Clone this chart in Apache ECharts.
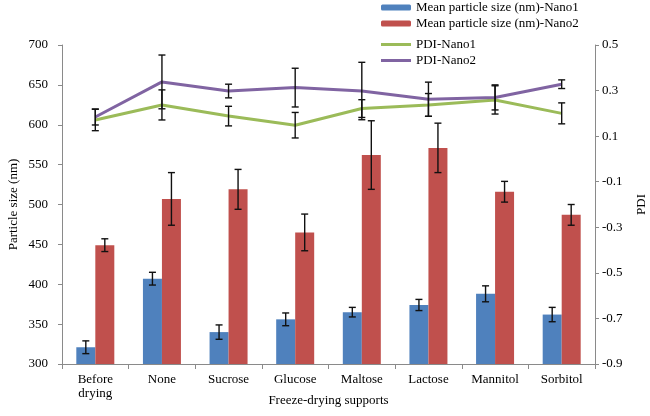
<!DOCTYPE html>
<html>
<head>
<meta charset="utf-8">
<script src="https://cdn.jsdelivr.net/npm/echarts@6/dist/echarts.min.js"></script>
<style>
  html, body { margin: 0; padding: 0; background: #fff; }
  #main { width: 650px; height: 416px; }
</style>
</head>
<body>
<div id="main"></div>
<script>
var categories = ['Before\ndrying', 'None', 'Sucrose', 'Glucose', 'Maltose', 'Lactose', 'Mannitol', 'Sorbitol'];

// particle size (nm), left axis
var sizeNano1 = [321, 407, 340, 356, 365, 374, 388, 362];
var sizeNano1Err = [8, 8, 9, 8, 6, 7, 10, 9];
var sizeNano2 = [449, 507, 519, 465, 562, 571, 516, 487];
var sizeNano2Err = [8, 33, 25, 23, 43, 31, 13, 13];

// PDI, right axis
var pdiNano1 = [0.171, 0.237, 0.188, 0.148, 0.221, 0.237, 0.259, 0.200];
var pdiNano1Err = [0.047, 0.066, 0.043, 0.056, 0.039, 0.050, 0.062, 0.046];
var pdiNano2 = [0.184, 0.338, 0.298, 0.313, 0.298, 0.262, 0.270, 0.328];
var pdiNano2Err = [0.035, 0.118, 0.030, 0.085, 0.126, 0.075, 0.055, 0.019];

var FONT = 'Liberation Serif';
var BAR_W = 19;

function errorBars(vals, errs, yAxisIndex, offset) {
    return {
        type: 'custom',
        yAxisIndex: yAxisIndex,
        silent: true,
        z: 10,
        data: vals.map(function (v, i) { return [i, v - errs[i], v + errs[i]]; }),
        encode: { x: 0, y: [1, 2] },
        renderItem: function (params, api) {
            var lo = api.coord([api.value(0), api.value(1)]);
            var hi = api.coord([api.value(0), api.value(2)]);
            var x = lo[0] + offset, hw = 3.5;
            var st = { stroke: '#111', lineWidth: 1.4 };
            return {
                type: 'group',
                children: [
                    { type: 'line', shape: { x1: x, y1: hi[1], x2: x, y2: lo[1] }, style: st },
                    { type: 'line', shape: { x1: x - hw, y1: hi[1], x2: x + hw, y2: hi[1] }, style: st },
                    { type: 'line', shape: { x1: x - hw, y1: lo[1], x2: x + hw, y2: lo[1] }, style: st }
                ]
            };
        }
    };
}

var axisLine = { show: true, onZero: false, lineStyle: { color: '#8a8a8a', width: 1 } };
var axisTick = { show: true, length: 4, lineStyle: { color: '#8a8a8a' } };
var legendText = { fontFamily: FONT, fontSize: 13, color: '#000' };

var chart = echarts.init(document.getElementById('main'));
chart.setOption({
    animation: false,
    textStyle: { fontFamily: FONT },
    grid: { left: 62, right: 55, top: 45, bottom: 52, containLabel: false, outerBoundsMode: 'none' },
    legend: [
        {
            data: ['Mean particle size (nm)-Nano1', 'Mean particle size (nm)-Nano2'],
            orient: 'vertical', left: 381, top: 1, padding: 0, itemGap: 3,
            itemWidth: 30, itemHeight: 6,
            textStyle: legendText
        },
        {
            data: [{ name: 'PDI-Nano1', icon: 'rect' }, { name: 'PDI-Nano2', icon: 'rect' }],
            orient: 'vertical', left: 381, top: 38, padding: 0, itemGap: 3,
            itemWidth: 30, itemHeight: 3,
            textStyle: legendText
        }
    ],
    xAxis: {
        type: 'category',
        data: categories,
        name: 'Freeze-drying supports',
        nameLocation: 'middle',
        nameGap: 30,
        nameMoveOverlap: false,
        nameTextStyle: { fontFamily: FONT, fontSize: 13, color: '#000' },
        axisLine: axisLine,
        axisTick: { show: true, length: 5, lineStyle: { color: '#8a8a8a' } },
        axisLabel: { fontFamily: FONT, fontSize: 13, color: '#000', margin: 9, lineHeight: 14, interval: 0 }
    },
    yAxis: [
        {
            type: 'value', min: 300, max: 700, interval: 50,
            name: 'Particle size (nm)',
            nameLocation: 'middle', nameRotate: 90, nameGap: 42,
            nameMoveOverlap: false,
            nameTextStyle: { fontFamily: FONT, fontSize: 13, color: '#000' },
            axisLine: axisLine, axisTick: axisTick,
            splitLine: { show: false },
            axisLabel: { fontFamily: FONT, fontSize: 13, color: '#000', margin: 14 }
        },
        {
            type: 'value', min: -0.9, max: 0.5, interval: 0.2,
            name: 'PDI',
            nameLocation: 'middle', nameRotate: 90, nameGap: 40,
            nameMoveOverlap: false,
            nameTextStyle: { fontFamily: FONT, fontSize: 13, color: '#000' },
            axisLine: axisLine, axisTick: axisTick,
            splitLine: { show: false },
            axisLabel: {
                fontFamily: FONT, fontSize: 13, color: '#000', margin: 7,
                formatter: function (v) { return (Math.round(v * 10) / 10).toFixed(1); }
            }
        }
    ],
    series: [
        {
            name: 'Mean particle size (nm)-Nano1', type: 'bar', data: sizeNano1,
            barWidth: BAR_W, barGap: '0%', itemStyle: { color: '#4f81bd' }
        },
        {
            name: 'Mean particle size (nm)-Nano2', type: 'bar', data: sizeNano2,
            barWidth: BAR_W, barGap: '0%', itemStyle: { color: '#c0504d' }
        },
        {
            name: 'PDI-Nano1', type: 'line', yAxisIndex: 1, data: pdiNano1,
            symbol: 'none', z: 5, color: '#9bbb59',
            lineStyle: { color: '#9bbb59', width: 3 }
        },
        {
            name: 'PDI-Nano2', type: 'line', yAxisIndex: 1, data: pdiNano2,
            symbol: 'none', z: 6, color: '#8064a2',
            lineStyle: { color: '#8064a2', width: 3 }
        },
        errorBars(sizeNano1, sizeNano1Err, 0, -BAR_W / 2),
        errorBars(sizeNano2, sizeNano2Err, 0, BAR_W / 2),
        errorBars(pdiNano1, pdiNano1Err, 1, 0),
        errorBars(pdiNano2, pdiNano2Err, 1, 0)
    ]
});
</script>
</body>
</html>
